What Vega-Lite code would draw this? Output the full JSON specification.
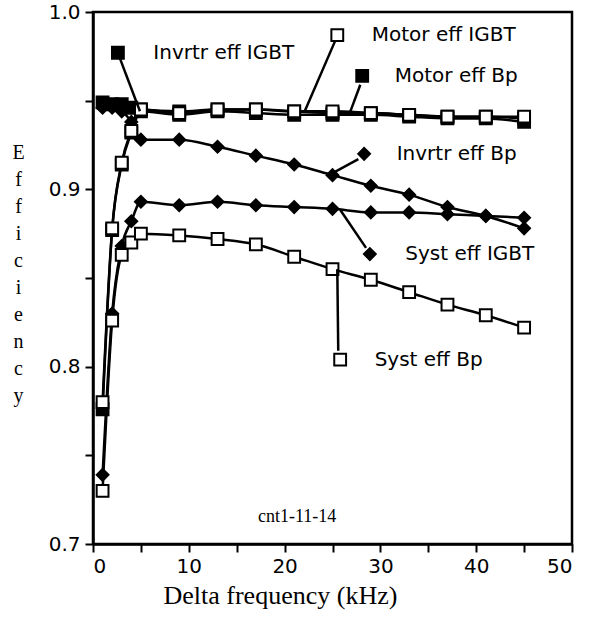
{
  "$schema": "https://vega.github.io/schema/vega-lite/v6.json",
  "width": 479,
  "height": 532,
  "autosize": "none",
  "padding": {"left": 93, "top": 12, "right": 23, "bottom": 77},
  "background": "white",
  "config": {
    "view": {"stroke": "black", "strokeWidth": 2.5},
    "axis": {"grid": false, "domainColor": "black", "domainWidth": 2.5, "tickColor": "black", "tickWidth": 2, "tickSize": 8, "labelColor": "black", "titleColor": "black", "labelFont": "DejaVu Sans", "labelFontSize": 20}
  },
  "datasets": {
    "series": [
      {"series": "Invrtr eff IGBT", "x": 1, "y": 0.949}, {"series": "Invrtr eff IGBT", "x": 2, "y": 0.948}, {"series": "Invrtr eff IGBT", "x": 3, "y": 0.948}, {"series": "Invrtr eff IGBT", "x": 4, "y": 0.946}, {"series": "Invrtr eff IGBT", "x": 5, "y": 0.945}, {"series": "Invrtr eff IGBT", "x": 9, "y": 0.944}, {"series": "Invrtr eff IGBT", "x": 13, "y": 0.945}, {"series": "Invrtr eff IGBT", "x": 17, "y": 0.945}, {"series": "Invrtr eff IGBT", "x": 21, "y": 0.944}, {"series": "Invrtr eff IGBT", "x": 25, "y": 0.943}, {"series": "Invrtr eff IGBT", "x": 29, "y": 0.943}, {"series": "Invrtr eff IGBT", "x": 33, "y": 0.942}, {"series": "Invrtr eff IGBT", "x": 37, "y": 0.941}, {"series": "Invrtr eff IGBT", "x": 41, "y": 0.941}, {"series": "Invrtr eff IGBT", "x": 45, "y": 0.940},
      {"series": "Motor eff Bp", "x": 1, "y": 0.776}, {"series": "Motor eff Bp", "x": 2, "y": 0.877}, {"series": "Motor eff Bp", "x": 3, "y": 0.914}, {"series": "Motor eff Bp", "x": 4, "y": 0.932}, {"series": "Motor eff Bp", "x": 5, "y": 0.944}, {"series": "Motor eff Bp", "x": 9, "y": 0.942}, {"series": "Motor eff Bp", "x": 13, "y": 0.944}, {"series": "Motor eff Bp", "x": 17, "y": 0.943}, {"series": "Motor eff Bp", "x": 21, "y": 0.942}, {"series": "Motor eff Bp", "x": 25, "y": 0.942}, {"series": "Motor eff Bp", "x": 29, "y": 0.942}, {"series": "Motor eff Bp", "x": 33, "y": 0.941}, {"series": "Motor eff Bp", "x": 37, "y": 0.940}, {"series": "Motor eff Bp", "x": 41, "y": 0.940}, {"series": "Motor eff Bp", "x": 45, "y": 0.938},
      {"series": "Invrtr eff Bp", "x": 1, "y": 0.946}, {"series": "Invrtr eff Bp", "x": 2, "y": 0.946}, {"series": "Invrtr eff Bp", "x": 3, "y": 0.944}, {"series": "Invrtr eff Bp", "x": 4, "y": 0.938}, {"series": "Invrtr eff Bp", "x": 5, "y": 0.928}, {"series": "Invrtr eff Bp", "x": 9, "y": 0.928}, {"series": "Invrtr eff Bp", "x": 13, "y": 0.924}, {"series": "Invrtr eff Bp", "x": 17, "y": 0.919}, {"series": "Invrtr eff Bp", "x": 21, "y": 0.914}, {"series": "Invrtr eff Bp", "x": 25, "y": 0.908}, {"series": "Invrtr eff Bp", "x": 29, "y": 0.902}, {"series": "Invrtr eff Bp", "x": 33, "y": 0.897}, {"series": "Invrtr eff Bp", "x": 37, "y": 0.890}, {"series": "Invrtr eff Bp", "x": 41, "y": 0.885}, {"series": "Invrtr eff Bp", "x": 45, "y": 0.878},
      {"series": "Motor eff IGBT", "x": 1, "y": 0.780}, {"series": "Motor eff IGBT", "x": 2, "y": 0.878}, {"series": "Motor eff IGBT", "x": 3, "y": 0.915}, {"series": "Motor eff IGBT", "x": 4, "y": 0.933}, {"series": "Motor eff IGBT", "x": 5, "y": 0.945}, {"series": "Motor eff IGBT", "x": 9, "y": 0.943}, {"series": "Motor eff IGBT", "x": 13, "y": 0.945}, {"series": "Motor eff IGBT", "x": 17, "y": 0.945}, {"series": "Motor eff IGBT", "x": 21, "y": 0.944}, {"series": "Motor eff IGBT", "x": 25, "y": 0.944}, {"series": "Motor eff IGBT", "x": 29, "y": 0.943}, {"series": "Motor eff IGBT", "x": 33, "y": 0.942}, {"series": "Motor eff IGBT", "x": 37, "y": 0.941}, {"series": "Motor eff IGBT", "x": 41, "y": 0.941}, {"series": "Motor eff IGBT", "x": 45, "y": 0.941},
      {"series": "Syst eff IGBT", "x": 1, "y": 0.739}, {"series": "Syst eff IGBT", "x": 2, "y": 0.830}, {"series": "Syst eff IGBT", "x": 3, "y": 0.868}, {"series": "Syst eff IGBT", "x": 4, "y": 0.882}, {"series": "Syst eff IGBT", "x": 5, "y": 0.893}, {"series": "Syst eff IGBT", "x": 9, "y": 0.891}, {"series": "Syst eff IGBT", "x": 13, "y": 0.893}, {"series": "Syst eff IGBT", "x": 17, "y": 0.891}, {"series": "Syst eff IGBT", "x": 21, "y": 0.890}, {"series": "Syst eff IGBT", "x": 25, "y": 0.889}, {"series": "Syst eff IGBT", "x": 29, "y": 0.887}, {"series": "Syst eff IGBT", "x": 33, "y": 0.887}, {"series": "Syst eff IGBT", "x": 37, "y": 0.886}, {"series": "Syst eff IGBT", "x": 41, "y": 0.885}, {"series": "Syst eff IGBT", "x": 45, "y": 0.884},
      {"series": "Syst eff Bp", "x": 1, "y": 0.730}, {"series": "Syst eff Bp", "x": 2, "y": 0.826}, {"series": "Syst eff Bp", "x": 3, "y": 0.863}, {"series": "Syst eff Bp", "x": 4, "y": 0.870}, {"series": "Syst eff Bp", "x": 5, "y": 0.875}, {"series": "Syst eff Bp", "x": 9, "y": 0.874}, {"series": "Syst eff Bp", "x": 13, "y": 0.872}, {"series": "Syst eff Bp", "x": 17, "y": 0.869}, {"series": "Syst eff Bp", "x": 21, "y": 0.862}, {"series": "Syst eff Bp", "x": 25, "y": 0.855}, {"series": "Syst eff Bp", "x": 29, "y": 0.849}, {"series": "Syst eff Bp", "x": 33, "y": 0.842}, {"series": "Syst eff Bp", "x": 37, "y": 0.835}, {"series": "Syst eff Bp", "x": 41, "y": 0.829}, {"series": "Syst eff Bp", "x": 45, "y": 0.822}
    ],
    "labels": [
      {"series": "Invrtr eff IGBT", "mx": 2.6, "my": 0.977, "tx": 6.3, "ex": 4.9, "ey": 0.944, "sx": 2.8, "sy": 0.974},
      {"series": "Motor eff IGBT", "mx": 25.5, "my": 0.987, "tx": 29.1, "ex": 22.1, "ey": 0.944, "sx": 25.3, "sy": 0.984},
      {"series": "Motor eff Bp", "mx": 28.1, "my": 0.964, "tx": 31.5, "ex": 26.8, "ey": 0.943, "sx": 27.9, "sy": 0.959},
      {"series": "Invrtr eff Bp", "mx": 28.3, "my": 0.920, "tx": 31.7, "ex": 25.3, "ey": 0.910, "sx": 27.7, "sy": 0.917},
      {"series": "Syst eff IGBT", "mx": 28.9, "my": 0.8635, "tx": 32.6, "ex": 25.8, "ey": 0.8885, "sx": 28.5, "sy": 0.867},
      {"series": "Syst eff Bp", "mx": 25.8, "my": 0.804, "tx": 29.4, "ex": 25.5, "ey": 0.855, "sx": 25.6, "sy": 0.809}
    ],
    "note": [{"x": 21.3, "y": 0.715, "text": "cnt1-11-14"}]
  },
  "layer": [
    {
      "data": {"name": "series"},
      "mark": {"type": "line", "color": "black", "strokeWidth": 2.5, "interpolate": "monotone"},
      "encoding": {
        "x": {"field": "x", "type": "quantitative", "scale": {"domain": [0, 50], "nice": false},
          "axis": {"values": [0, 5, 10, 15, 20, 25, 30, 35, 40, 45, 50], "labelExpr": "datum.value % 10 == 0 ? datum.value : ''", "title": "Delta frequency (kHz)", "titleFont": "Liberation Serif", "titleFontSize": 26, "titleFontWeight": "normal", "titleAnchor": "start", "titleAlign": "left", "titleX": 70, "titlePadding": 6, "labelPadding": 4}},
        "y": {"field": "y", "type": "quantitative", "scale": {"domain": [0.7, 1.0], "nice": false, "zero": false},
          "axis": {"values": [0.7, 0.75, 0.8, 0.85, 0.9, 0.95, 1.0], "labelExpr": "round(datum.value*100) % 10 == 0 ? format(datum.value, '.1f') : ''", "title": ["E", "f", "f", "i", "c", "i", "e", "n", "c", "y"], "titleFont": "Liberation Serif", "titleFontSize": 20, "titleFontWeight": "normal", "titleAngle": 0, "titleAlign": "center", "titleBaseline": "top", "titleX": -75, "titleY": 130, "titleLineHeight": 27, "labelPadding": 5}},
        "detail": {"field": "series"}
      }
    },
    {
      "data": {"name": "series"},
      "mark": {"type": "point", "stroke": "black", "strokeWidth": 2, "opacity": 1, "size": 140},
      "encoding": {
        "x": {"field": "x", "type": "quantitative"},
        "y": {"field": "y", "type": "quantitative"},
        "shape": {"field": "series", "type": "nominal", "legend": null, "scale": {"domain": ["Invrtr eff IGBT", "Motor eff Bp", "Invrtr eff Bp", "Motor eff IGBT", "Syst eff IGBT", "Syst eff Bp"], "range": ["square", "square", "diamond", "square", "diamond", "square"]}},
        "fill": {"field": "series", "type": "nominal", "legend": null, "scale": {"domain": ["Invrtr eff IGBT", "Motor eff Bp", "Invrtr eff Bp", "Motor eff IGBT", "Syst eff IGBT", "Syst eff Bp"], "range": ["black", "black", "black", "white", "black", "white"]}}
      }
    },
    {
      "data": {"name": "labels"},
      "mark": {"type": "rule", "color": "black", "strokeWidth": 2.5},
      "encoding": {
        "x": {"field": "sx", "type": "quantitative"},
        "y": {"field": "sy", "type": "quantitative"},
        "x2": {"field": "ex"},
        "y2": {"field": "ey"}
      }
    },
    {
      "data": {"name": "labels"},
      "mark": {"type": "point", "stroke": "black", "strokeWidth": 2, "opacity": 1, "size": 140},
      "encoding": {
        "x": {"field": "mx", "type": "quantitative"},
        "y": {"field": "my", "type": "quantitative"},
        "shape": {"field": "series", "type": "nominal", "legend": null},
        "fill": {"field": "series", "type": "nominal", "legend": null}
      }
    },
    {
      "data": {"name": "labels"},
      "mark": {"type": "text", "align": "left", "baseline": "middle", "font": "DejaVu Sans", "fontSize": 20, "color": "black"},
      "encoding": {
        "x": {"field": "tx", "type": "quantitative"},
        "y": {"field": "my", "type": "quantitative"},
        "text": {"field": "series"}
      }
    },
    {
      "data": {"name": "note"},
      "mark": {"type": "text", "align": "center", "baseline": "middle", "font": "Liberation Serif", "fontSize": 18, "color": "black"},
      "encoding": {
        "x": {"field": "x", "type": "quantitative"},
        "y": {"field": "y", "type": "quantitative"},
        "text": {"field": "text"}
      }
    }
  ]
}
